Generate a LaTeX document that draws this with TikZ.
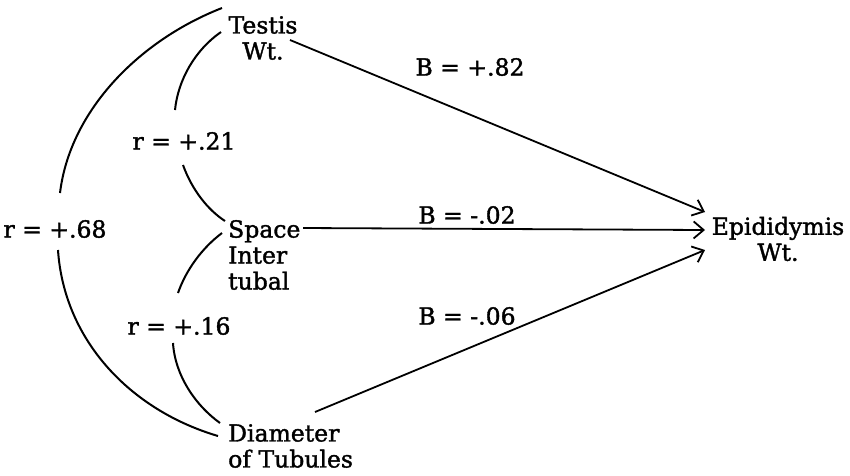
\documentclass[tikz,border=0pt]{standalone}
\usepackage{fontspec}
\setmainfont{DejaVu Serif}[BoldFont=DejaVu Serif, BoldFeatures={FakeBold=1.5}]
\usetikzlibrary{arrows.meta}
\begin{document}
\begin{tikzpicture}[x=1pt,y=-1pt,
  lbl/.style={font=\fontsize{23.5}{26}\selectfont\bfseries, inner sep=0pt},
  var/.style={lbl, align=left},
  link/.style={line width=2pt},
  path/.style={line width=1.8pt, -{Straight Barb[length=10pt,width=17pt,line width=1.8pt]}}]
  \useasboundingbox (0,0) rectangle (850,475);

  % variables
  \node[lbl, align=center] (testis) at (263,38) {Testis\\Wt.};
  \node[var, anchor=west] (space) at (228,255) {Space\\Inter\\tubal};
  \node[var, anchor=west] (diam) at (228,446) {Diameter\\of Tubules};
  \node[lbl, align=center] (epid) at (778,239) {Epididymis\\Wt.};

  % coefficients
  \node[lbl] (r68) at (55,229) {r = +.68};
  \node[lbl] (r21) at (184,141) {r = +.21};
  \node[lbl] (r16) at (179,326) {r = +.16};
  \node[lbl] (b82) at (470,67) {B = +.82};
  \node[lbl] (b02) at (467,215) {B = -.02};
  \node[lbl] (b06) at (467,316) {B = -.06};

  % ends of the correlation arcs
  \coordinate (t1) at (222,8);
  \coordinate (t2) at (221,32);
  \coordinate (s1) at (225,221);
  \coordinate (s2) at (222,233);
  \coordinate (d1) at (220,423);
  \coordinate (d2) at (218,436);
  \coordinate (a68) at (60,193);
  \coordinate (b68) at (58,250);
  \coordinate (a21) at (175,110);
  \coordinate (b21) at (183,165);
  \coordinate (a16) at (178,293);
  \coordinate (b16) at (173,343);

  % correlation arcs
  \draw[link] (t1) .. controls (140,40) and (70,110) .. (a68);
  \draw[link] (b68) .. controls (64,340) and (130,410) .. (d2);
  \draw[link] (t2) .. controls (195,50) and (178,80) .. (a21);
  \draw[link] (b21) .. controls (192,190) and (208,210) .. (s1);
  \draw[link] (s2) .. controls (202,248) and (186,270) .. (a16);
  \draw[link] (b16) .. controls (175,375) and (195,405) .. (d1);

  % path arrows
  \coordinate (pt) at (290,40);
  \coordinate (ps) at (303,228);
  \coordinate (pd) at (315,412);
  \coordinate (e1) at (705,212);
  \coordinate (e2) at (705,230);
  \coordinate (e3) at (705,250);
  \draw[path] (pt) -- (e1);
  \draw[path] (ps) -- (e2);
  \draw[path] (pd) -- (e3);
\end{tikzpicture}
\end{document}
